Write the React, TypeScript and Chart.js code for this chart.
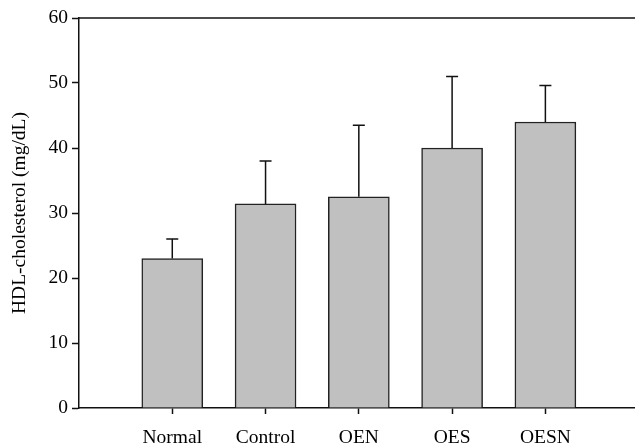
import React, { useEffect, useRef } from "react";
import { Chart, registerables } from "chart.js";

Chart.register(...registerables);

const categories = ["Normal", "Control", "OEN", "OES", "OESN"];
const means = [23, 31.4, 32.5, 40, 44];
const sds = [3, 6.6, 11, 11, 5.6];
const yTicks = [0, 10, 20, 30, 40, 50, 60];

const FONT = "'Liberation Serif', 'Times New Roman', serif";

const errorBarPlugin = {
  id: "errorBars",
  afterDatasetsDraw(chart: any) {
    const { ctx, scales, chartArea } = chart;
    const x = scales.x;
    const y = scales.y;
    ctx.save();
    ctx.strokeStyle = "#111";
    ctx.lineWidth = 1.5;
    means.forEach((m, i) => {
      const px = x.getPixelForValue(i + 1);
      const top = y.getPixelForValue(m + sds[i]);
      const base = y.getPixelForValue(m);
      ctx.beginPath();
      ctx.moveTo(px, base);
      ctx.lineTo(px, top);
      ctx.moveTo(px - 6, top);
      ctx.lineTo(px + 6, top);
      ctx.stroke();
    });
    // top frame line
    const ty = y.getPixelForValue(yTicks[yTicks.length - 1]);
    ctx.beginPath();
    ctx.moveTo(chartArea.left, ty);
    ctx.lineTo(chartArea.right + 2, ty);
    ctx.stroke();
    ctx.restore();
  },
};

export default function App() {
  const ref = useRef<HTMLCanvasElement>(null);
  useEffect(() => {
    const chart = new Chart(ref.current as HTMLCanvasElement, {
      type: "bar",
      data: {
        datasets: [
          {
            data: means.map((v, i) => ({ x: i + 1, y: v })),
            backgroundColor: "#c0c0c0",
            borderColor: "#222",
            borderWidth: 1.5,
            barThickness: 61,
          } as any,
        ],
      },
      options: {
        animation: false,
        responsive: false,
        maintainAspectRatio: false,
        layout: { padding: { top: 18, right: 1, left: 0, bottom: 0 } },
        plugins: { legend: { display: false }, tooltip: { enabled: false } },
        scales: {
          x: {
            type: "linear",
            offset: false,
            min: 0,
            max: 5.95,
            afterBuildTicks: (scale: any) => {
              scale.ticks = categories.map((_, i) => ({ value: i + 1 }));
            },
            afterFit: (scale: any) => {
              scale.height = 37;
            },
            ticks: {
              autoSkip: false,
              maxRotation: 0,
              padding: 12,
              color: "#000",
              font: { family: FONT, size: 19.5 },
              callback: (v: any) => categories[Math.round(v) - 1] ?? "",
            },
            grid: {
              offset: false,
              drawOnChartArea: false,
              drawTicks: true,
              tickLength: 6,
              tickWidth: 1.5,
              tickColor: "#111",
            },
            border: { display: true, color: "#111", width: 1.5 },
          },
          y: {
            min: 0,
            max: 60,
            afterBuildTicks: (scale: any) => {
              scale.ticks = yTicks.map((v) => ({ value: v }));
            },
            afterFit: (scale: any) => {
              scale.width = 79;
            },
            ticks: {
              padding: 4,
              color: "#000",
              font: { family: FONT, size: 19.5 },
            },
            grid: {
              drawOnChartArea: false,
              drawTicks: true,
              tickLength: 7,
              tickWidth: 1.5,
              tickColor: "#111",
            },
            border: { display: true, color: "#111", width: 1.5 },
            title: {
              display: true,
              text: "HDL-cholesterol (mg/dL)",
              color: "#000",
              font: { family: FONT, size: 19.5 },
              padding: { top: 8, bottom: 0 },
            },
          },
        },
      },
      plugins: [errorBarPlugin],
    });
    return () => chart.destroy();
  }, []);
  return (
    <div style={{ position: "absolute", left: 0, top: 0, width: 635, height: 445, background: "#fff" }}>
      <canvas ref={ref} width={635} height={445} style={{ display: "block" }} />
    </div>
  );
}
